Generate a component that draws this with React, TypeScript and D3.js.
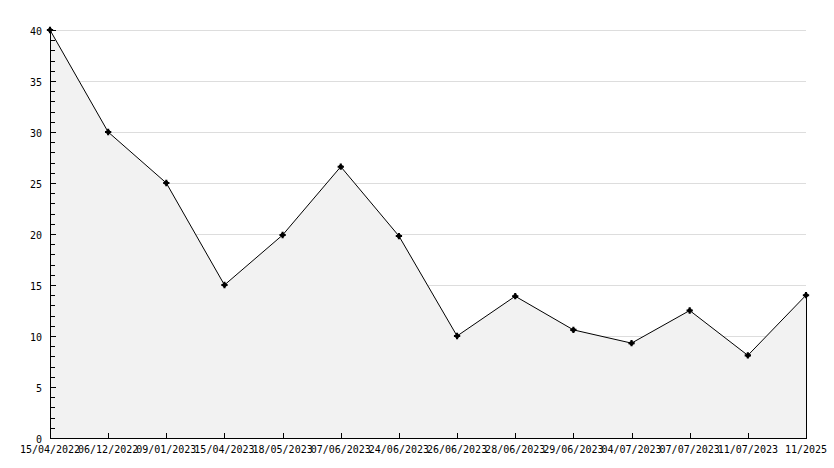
import React from "react";
import * as d3 from "d3";

const labels = ["15/04/2022","06/12/2022","09/01/2023","15/04/2023","18/05/2023","07/06/2023","24/06/2023","26/06/2023","28/06/2023","29/06/2023","04/07/2023","07/07/2023","11/07/2023","11/2025"];
const values = [40, 30, 25, 15, 19.9, 26.6, 19.8, 10, 13.9, 10.6, 9.3, 12.5, 8.1, 14];
const yMajorTicks = [0, 5, 10, 15, 20, 25, 30, 35, 40];
const yMinorTicks = d3.range(0, 41, 1);

export default function App() {
  const W = 834, H = 468;
  const left = 50, right = 806, top = 30, bottom = 438;
  const x = d3.scaleLinear().domain([0, labels.length - 1]).range([left, right]);
  const y = d3.scaleLinear().domain([0, 40]).range([bottom, top]);
  const pts: [number, number][] = values.map((v, i) => [x(i), y(v)]);
  const line = d3.line()(pts) || "";
  const area = d3.area<[number, number]>().x(d => d[0]).y0(bottom).y1(d => d[1])(pts) || "";
  const cross = d3.symbol(d3.symbolCross, 22)() || "";
  const xs = d3.symbol(d3.symbolX, 22)() || "";
  const font = "'DejaVu Sans Mono', monospace";
  return (
    <svg width={W} height={H} style={{ position: "absolute", left: 0, top: 0, background: "#fff" }} shapeRendering="crispEdges">
      {yMajorTicks.filter(t => t > 0).map(t => (
        <line key={"g" + t} x1={left} x2={right} y1={Math.round(y(t)) + 0.5} y2={Math.round(y(t)) + 0.5} stroke="#dddddd" />
      ))}
      <path d={area} fill="#f2f2f2" stroke="none" />
      <line x1={right + 0.5} x2={right + 0.5} y1={y(values[values.length - 1])} y2={bottom} stroke="#000" />
      <path d={line} fill="none" stroke="#000" strokeWidth={1} shapeRendering="auto" />
      {/* y axis */}
      <line x1={left + 0.5} x2={left + 0.5} y1={top} y2={bottom + 1} stroke="#000" />
      {yMinorTicks.map(t => (
        <line key={"m" + t} x1={left} x2={t % 5 === 0 ? left + 6 : left + 5} y1={Math.round(y(t)) + 0.5} y2={Math.round(y(t)) + 0.5} stroke="#000" />
      ))}
      {yMajorTicks.map(t => (
        <text key={"yl" + t} x={42} y={y(t) + 4.5} textAnchor="end" fontFamily={font} fontSize={10} fill="#000">{t}</text>
      ))}
      {/* x axis */}
      <line x1={left} x2={right + 1} y1={bottom + 0.5} y2={bottom + 0.5} stroke="#000" />
      {labels.map((l, i) => (
        <g key={"x" + i}>
          <line x1={Math.round(x(i)) + 0.5} x2={Math.round(x(i)) + 0.5} y1={bottom - 5} y2={bottom} stroke="#000" />
          <text x={x(i)} y={453} textAnchor="middle" fontFamily={font} fontSize={10} fill="#000">{l}</text>
        </g>
      ))}
      {pts.map((p, i) => (
        <g key={"p" + i} transform={`translate(${p[0]},${p[1]})`} shapeRendering="auto">
          <path d={cross} fill="#000" />
          <path d={xs} fill="#000" />
          <circle r={2.2} fill="#000" />
        </g>
      ))}
    </svg>
  );
}
